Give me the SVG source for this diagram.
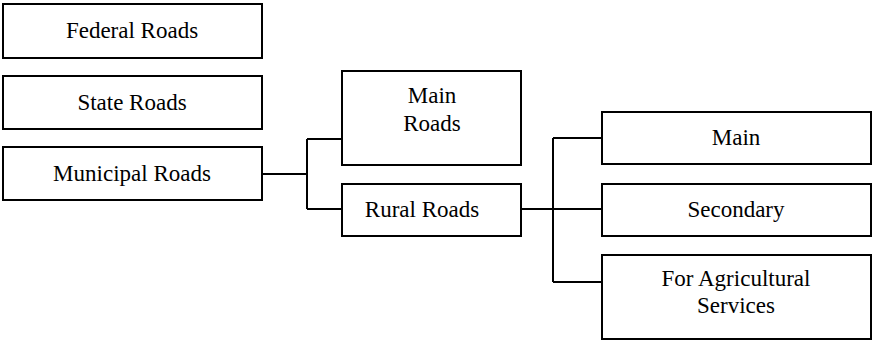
<svg xmlns="http://www.w3.org/2000/svg" width="872" height="343" viewBox="0 0 872 343">
<style>
rect{fill:#fff;stroke:#000;stroke-width:2}
text{font-family:"Liberation Serif","Times New Roman",serif;font-size:23px;fill:#000;text-anchor:middle}
.c{fill:none;stroke:#000;stroke-width:2}
</style>
<rect x="0" y="0" width="872" height="343" style="stroke:none"/>
<g id="federal"><rect x="3" y="4" width="259" height="54"/><text x="132" y="38">Federal Roads</text></g>
<g id="state"><rect x="3" y="76" width="259" height="53"/><text x="132" y="110">State Roads</text></g>
<g id="municipal"><rect x="3" y="147" width="259" height="53"/><text x="132" y="181">Municipal Roads</text></g>
<g id="mainroads"><rect x="342" y="71" width="179" height="94"/><text x="432" y="103">Main</text><text x="432" y="131">Roads</text></g>
<g id="rural"><rect x="342" y="184" width="179" height="52"/><text x="422" y="217">Rural Roads</text></g>
<g id="main"><rect x="602" y="112" width="269" height="52"/><text x="736" y="145">Main</text></g>
<g id="secondary"><rect x="602" y="184" width="269" height="52"/><text x="736" y="217">Secondary</text></g>
<g id="agri"><rect x="602" y="255" width="269" height="84"/><text x="736" y="286">For Agricultural</text><text x="736" y="313">Services</text></g>
<g id="connectors">
<path class="c" d="M262 174H307M307 139V209M307 139H342M307 209H342"/>
<path class="c" d="M521 209H602M553 138V282M553 138H602M553 282H602"/>
</g>
</svg>
